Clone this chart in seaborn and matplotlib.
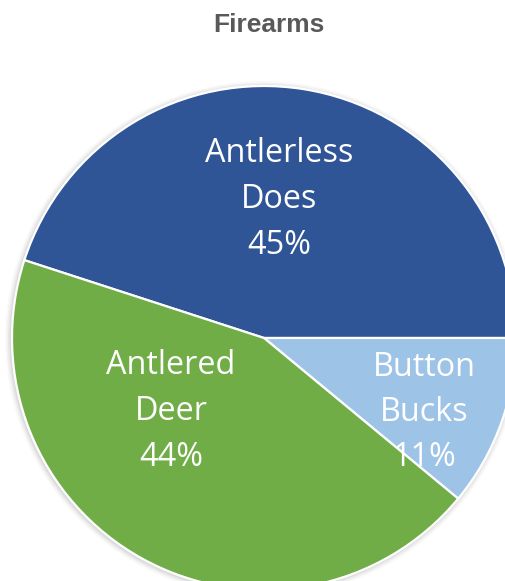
import matplotlib
matplotlib.use("Agg")
import matplotlib.pyplot as plt
import seaborn as sns
from matplotlib.patches import Circle

# Harvest composition for the firearms season
categories = ["Antlerless\nDoes", "Button\nBucks", "Antlered\nDeer"]
shares = [45, 11, 44]
colors = ["#2F5597", "#9DC3E6", "#70AD47"]
title = "Firearms"

sns.set_theme(style="white")
plt.rcParams["font.family"] = ["Open Sans", "DejaVu Sans"]

W, H = 505, 581
fig = plt.figure(figsize=(W / 100, H / 100), dpi=100)
ax = fig.add_axes([0, 0, 1, 1])

cx, cy, R = 264, H - 338, 252

# soft shadow around the pie
for i, a in enumerate([0.05, 0.04, 0.03, 0.02]):
    ax.add_patch(Circle((cx - 1, cy - 1), R + 1.5 + i * 1.5, color="black",
                        alpha=a, lw=0, zorder=0))

wedges, _ = ax.pie(shares, colors=colors, startangle=162, counterclock=False,
                   center=(cx, cy), radius=R, frame=True,
                   wedgeprops=dict(edgecolor="white", linewidth=1.6))
ax.set_xlim(0, W)
ax.set_ylim(0, H)
ax.set_aspect("equal")
ax.set_axis_off()

# label anchor points (pixel layout, measured from the top)
label_pos = [(279, 199.5), (424, 412.5), (171, 411.5)]
for name, v, (x, y) in zip(categories, shares, label_pos):
    ax.text(x, H - y, f"{name}\n{v}%", ha="center", va="center",
            color="white", fontsize=23.3, linespacing=1.5, zorder=5)

fig.text(269 / W, 1 - 25 / H, title, ha="center", va="center",
         fontsize=19, fontweight="bold", color="#595959",
         family=["Liberation Sans", "DejaVu Sans"])

fig.savefig("out.png", dpi=100)
